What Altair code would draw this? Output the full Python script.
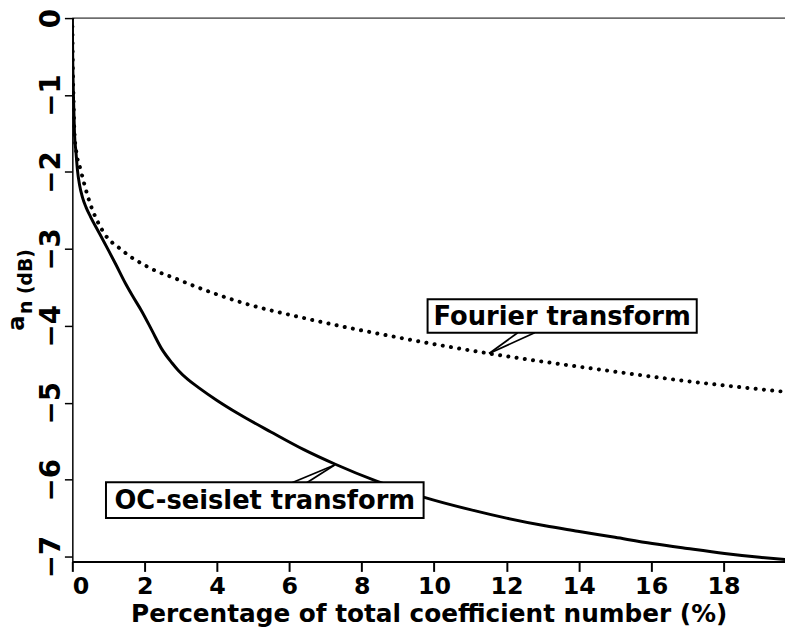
import altair as alt
import pandas as pd

# ---- data ----
oc_x = [0, 0.01, 0.03, 0.06, 0.10, 0.14, 0.20, 0.28, 0.38, 0.50, 0.74, 1.00, 1.20, 1.47, 1.65,
        1.93, 2.20, 2.47, 2.75, 2.93, 3.20, 3.48, 4.00, 4.58, 5.49, 6.40, 7.27, 8.41, 9.73,
        11.0, 12.0, 13.07, 13.97, 15.0, 16.03, 17.0, 18.03, 19.0, 19.73]
oc_y = [0, -0.5, -1.0, -1.5, -1.74, -1.97, -2.17, -2.33, -2.46, -2.58, -2.79, -3.02, -3.20,
        -3.45, -3.60, -3.82, -4.06, -4.30, -4.48, -4.58, -4.70, -4.80, -4.97, -5.14, -5.38,
        -5.61, -5.80, -6.02, -6.23, -6.39, -6.50, -6.60, -6.67, -6.75, -6.83, -6.895, -6.96,
        -7.01, -7.04]

ft_x = [0, 0.01, 0.03, 0.06, 0.10, 0.24, 0.47, 0.83, 1.38, 2.11, 2.93, 3.30, 4.70,
        6.50, 9.10, 11.52, 14.44, 17.18, 19.73]
ft_y = [0, -0.5, -1.0, -1.5, -1.70, -1.99, -2.38, -2.76, -3.02, -3.24, -3.40, -3.47, -3.70,
        -3.91, -4.16, -4.36, -4.56, -4.73, -4.86]

x_ticks = [0, 2, 4, 6, 8, 10, 12, 14, 16, 18]
y_ticks = [0, -1, -2, -3, -4, -5, -6, -7]

label_text = ["Fourier transform", "OC-seislet transform"]
box_x1 = [9.82, 0.93]
box_x2 = [17.26, 9.71]
box_y1 = [-3.655, -6.035]
box_y2 = [-4.09, -6.50]
tip_x = [11.52, 7.25]
tip_y = [-4.36, -5.81]
base_xa = [12.31, 6.07]
base_xb = [12.78, 6.48]
base_y = [-4.09, -6.04]

y_title_parts = ["a", "n (dB)"]

x_title = "Percentage of total coefficient number (%)"

# ---- tables ----
oc_df = pd.DataFrame({"x": oc_x, "y": oc_y})
ft_df = pd.DataFrame({"x": ft_x, "y": ft_y})
box_df = pd.DataFrame({
    "label": label_text, "x1": box_x1, "x2": box_x2, "y1": box_y1, "y2": box_y2,
    "xc": [(a + b) / 2 for a, b in zip(box_x1, box_x2)],
    "yc": [(a + b) / 2 for a, b in zip(box_y1, box_y2)],
})
wedge_df = pd.DataFrame({
    "tx": tip_x * 2, "ty": tip_y * 2,
    "bx": base_xa + base_xb, "by": base_y * 2,
})

FONT = "DejaVu Sans"
W, H = 720, 549

xscale = alt.Scale(domain=[0, 19.70], nice=False, zero=False)
yscale = alt.Scale(domain=[-7.064, 0], nice=False, zero=False)

xaxis = alt.Axis(values=x_ticks, title=x_title, grid=False, tickSize=10, tickWidth=2,
                 domainWidth=2, domainColor="black", tickColor="black",
                 labelFontSize=24, labelPadding=3, labelColor="black",
                 titleFontSize=25, titlePadding=4, titleColor="black")
yaxis = alt.Axis(values=y_ticks, title=None, grid=False, tickSize=8, tickWidth=1.5,
                 domainWidth=1.5, domainColor="black", tickColor="black",
                 labelFontSize=28, labelAngle=270, labelAlign="center",
                 labelBaseline="alphabetic", labelPadding=5, labelColor="black")

X = alt.X("x:Q", scale=xscale, axis=xaxis)
Y = alt.Y("y:Q", scale=yscale, axis=yaxis)

oc_line = alt.Chart(oc_df).mark_line(
    color="black", strokeWidth=3, interpolate="monotone", clip=True
).encode(x=X, y=Y)

ft_line = alt.Chart(ft_df).mark_line(
    color="black", strokeWidth=4, strokeDash=[0.1, 8.3], strokeCap="round",
    interpolate="monotone", clip=True
).encode(x=X, y=Y)

top_rule = alt.Chart(pd.DataFrame({"k": [0]})).mark_rule(
    color="black", strokeWidth=1
).encode(x=alt.value(0), x2=alt.value(W), y=alt.value(0))

wedges = alt.Chart(wedge_df).mark_rule(color="black", strokeWidth=1.8).encode(
    x=alt.X("tx:Q", scale=xscale, axis=xaxis),
    y=alt.Y("ty:Q", scale=yscale, axis=yaxis),
    x2="bx:Q", y2="by:Q",
)

boxes = alt.Chart(box_df).mark_rect(fill="white", stroke="black", strokeWidth=2).encode(
    x=alt.X("x1:Q", scale=xscale, axis=xaxis),
    y=alt.Y("y1:Q", scale=yscale, axis=yaxis),
    x2="x2:Q", y2="y2:Q",
)

box_text = alt.Chart(box_df).mark_text(
    font=FONT, fontSize=26, fontWeight="bold", color="black",
    align="center", baseline="middle", dy=1
).encode(
    x=alt.X("xc:Q", scale=xscale, axis=xaxis),
    y=alt.Y("yc:Q", scale=yscale, axis=yaxis),
    text="label:N",
)

ytitle_a = alt.Chart(pd.DataFrame({"t": [y_title_parts[0]]})).mark_text(
    font=FONT, fontSize=23, fontWeight="bold", color="black",
    angle=270, align="left", baseline="alphabetic"
).encode(x=alt.value(-49), y=alt.value(316), text="t:N")

ytitle_n = alt.Chart(pd.DataFrame({"t": [y_title_parts[1]]})).mark_text(
    font=FONT, fontSize=19, fontWeight="bold", color="black",
    angle=270, align="left", baseline="alphabetic"
).encode(x=alt.value(-41), y=alt.value(299), text="t:N")

chart = alt.layer(
    oc_line, ft_line, top_rule, wedges, boxes, box_text, ytitle_a, ytitle_n
).properties(
    width=W, height=H,
    padding={"left": 65, "top": 7, "right": 0, "bottom": 64},
    autosize=alt.AutoSizeParams(type="none"),
).configure_view(
    stroke=None
).configure_axis(
    labelFont=FONT, titleFont=FONT, labelFontWeight="bold", titleFontWeight="bold"
)

chart.save("out.html", embed_options={"renderer": "svg", "actions": False})
